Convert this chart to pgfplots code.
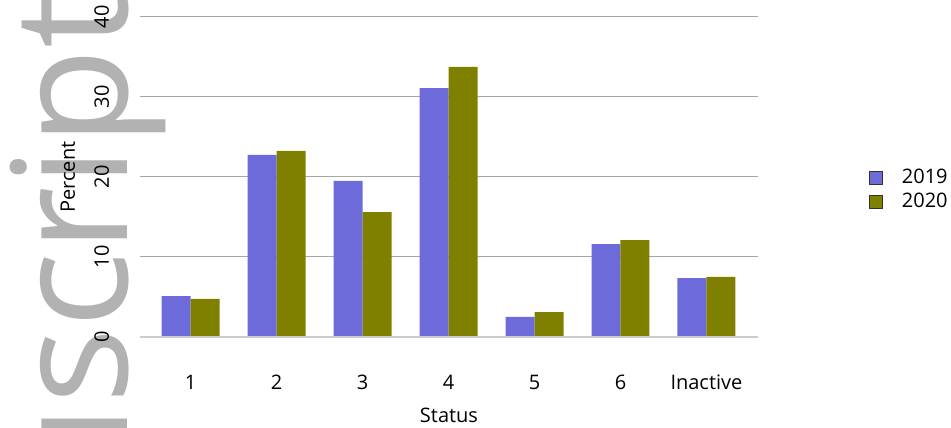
\documentclass[border=0pt]{standalone}
\usepackage{pgfplots}
\pgfplotsset{compat=1.18}
\usepackage{fontspec}
\setmainfont{Open Sans}
\definecolor{cblue}{RGB}{108,107,217}
\definecolor{colive}{RGB}{128,128,0}
\definecolor{wm}{RGB}{178,178,178}
\definecolor{gridc}{RGB}{166,166,166}
\definecolor{basec}{RGB}{204,204,204}
\begin{document}
\fontsize{20}{24}\selectfont
\begin{tikzpicture}
\useasboundingbox (0pt,0pt) rectangle (951pt,428pt);
\begin{scope}
\clip (0pt,0pt) rectangle (951pt,428pt);
\node[rotate=90, anchor=base west, inner sep=0pt, text=wm, font=\fontsize{160}{160}\selectfont] at (127pt,23pt) {script};
\node[rotate=90, anchor=base east, inner sep=0pt, text=wm, font=\fontsize{160}{160}\selectfont] at (127pt,23pt) {Manu};
\end{scope}
\begin{axis}[
  at={(140pt,91pt)}, anchor=south west,
  width=618pt, height=320pt, scale only axis,
  clip=false,
  xmin=-0.59, xmax=6.6, ymin=0, ymax=40,
  ytick={0,10,20,30,40},
  xtick={0,1,2,3,4,5,6},
  xticklabels={1,2,3,4,5,6,Inactive},
  ymajorgrids, grid style={gridc, line width=1pt},
  axis line style={draw=none},
  major tick length=0pt,
  /pgf/number format/assume math mode=true,
  yticklabel style={xshift=-31pt, rotate=90, anchor=base},
  xticklabel style={anchor=base, yshift=-52.5pt},
  every axis y label/.style={at={(rel axis cs:0,0.5)}, xshift=-65pt, rotate=90, anchor=base},
  every axis x label/.style={at={(rel axis cs:0.5,0)}, yshift=-86pt, anchor=base},
  xlabel={Status}, ylabel={Percent},
  ybar, bar width=0.337,
  legend style={at={(1,0.459)}, anchor=west, xshift=111pt, draw=none, fill=none, inner sep=0pt,
    nodes={inner sep=3pt, text height=14pt, text depth=4pt, anchor=west}, row sep=0pt,
    /tikz/every odd column/.append style={column sep=16pt}},
  legend cell align=left,
  legend image code/.code={\draw[#1, draw=black!80, line width=0.7pt] (0pt,-6.5pt) rectangle (13pt,6.5pt);},
]
\addplot[fill=cblue, draw=none, bar shift=-0.1686] coordinates {(0,5.1) (1,22.75) (2,19.5) (3,31.1) (4,2.5) (5,11.6) (6,7.35)};
\addplot[fill=colive, draw=none, bar shift=0.1686] coordinates {(0,4.75) (1,23.25) (2,15.6) (3,33.75) (4,3.1) (5,12.1) (6,7.5)};
\draw[basec, line width=2pt] (axis cs:-0.59,0) -- (axis cs:6.6,0);
\legend{2019,2020}
\end{axis}
\end{tikzpicture}
\end{document}
